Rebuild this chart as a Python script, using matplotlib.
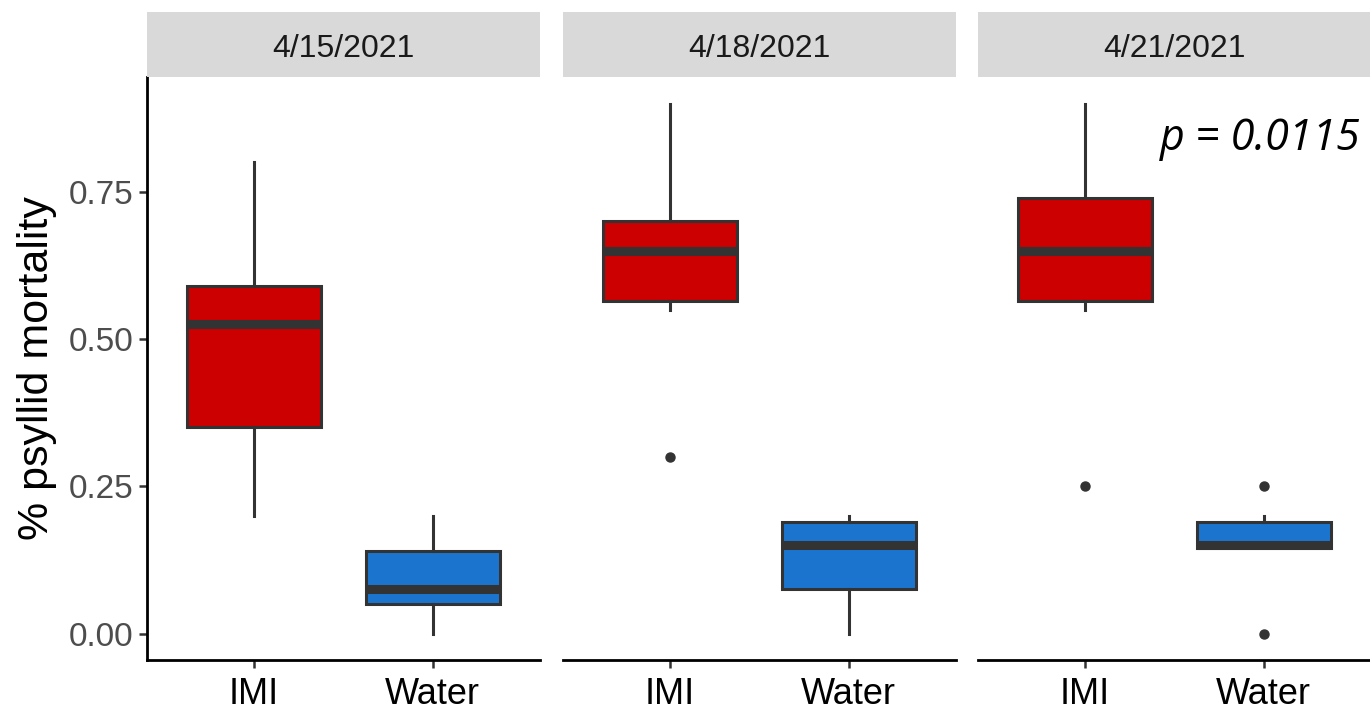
import matplotlib
matplotlib.use("Agg")
import matplotlib.pyplot as plt

dates = ["4/15/2021", "4/18/2021", "4/21/2021"]
treatments = ["IMI", "Water"]
colors = ["#CC0000", "#1B75CF"]

# per date, per treatment: [whislo, q1, median, q3, whishi]
imi_stats = [
    [0.20, 0.35, 0.525, 0.59, 0.80],
    [0.55, 0.565, 0.65, 0.70, 0.90],
    [0.55, 0.565, 0.65, 0.74, 0.90],
]
water_stats = [
    [0.00, 0.05, 0.075, 0.14, 0.20],
    [0.00, 0.075, 0.15, 0.19, 0.20],
    [0.145, 0.145, 0.15, 0.19, 0.20],
]
imi_outliers = [[], [0.30], [0.25]]
water_outliers = [[], [], [0.25, 0.00]]

yticks = [0.00, 0.25, 0.50, 0.75]
ytick_labels = ["0.00", "0.25", "0.50", "0.75"]
p_label = "p = 0.0115"

plt.rcParams["font.family"] = ["Liberation Sans", "DejaVu Sans"]

W, H = 1370, 713
fig = plt.figure(figsize=(W / 100, H / 100), dpi=100)

panel_lefts = [147, 563, 978]
panel_w = 393
ax_top, ax_bot = 77, 660
strip_top = 12

dark = "#333333"
for i, d in enumerate(dates):
    l = panel_lefts[i] / W
    ax = fig.add_axes([l, 1 - ax_bot / H, panel_w / W, (ax_bot - ax_top) / H])
    stats = []
    for j, (s, fl) in enumerate([(imi_stats[i], imi_outliers[i]), (water_stats[i], water_outliers[i])]):
        stats.append(dict(whislo=s[0], q1=s[1], med=s[2], q3=s[3], whishi=s[4], fliers=fl, label=treatments[j]))
    bp = ax.bxp(stats, positions=[1, 2], widths=0.75, patch_artist=True, showcaps=False,
                boxprops=dict(edgecolor=dark, linewidth=2.2),
                whiskerprops=dict(color=dark, linewidth=2.2),
                medianprops=dict(color=dark, linewidth=6.5, solid_capstyle="butt"),
                flierprops=dict(marker="o", markerfacecolor=dark, markeredgecolor=dark, markersize=6.5))
    for patch, c in zip(bp["boxes"], colors):
        patch.set_facecolor(c)
    ax.set_xlim(0.4, 2.6)
    ax.set_ylim(-0.045, 0.945)
    for sp in ["top", "right"]:
        ax.spines[sp].set_visible(False)
    ax.spines["bottom"].set_linewidth(2.0)
    ax.spines["bottom"].set_color("black")
    ax.set_xticks([1, 2])
    ax.set_xticklabels(treatments, fontsize=26, color="black")
    ax.tick_params(axis="x", length=6, width=1.8, color=dark, pad=6)
    if i == 0:
        ax.spines["left"].set_linewidth(2.0)
        ax.spines["left"].set_color("black")
        ax.set_yticks(yticks)
        ax.set_yticklabels(ytick_labels, fontsize=24, color="#4D4D4D")
        ax.tick_params(axis="y", length=6, width=1.8, color=dark, pad=4)
        ax.set_ylabel("% psyllid mortality", fontsize=31, color="black", labelpad=8)
    else:
        ax.spines["left"].set_visible(False)
        ax.set_yticks([])
    # strip
    sax = fig.add_axes([l, 1 - ax_top / H, panel_w / W, (ax_top - strip_top) / H])
    sax.set_facecolor("#D9D9D9")
    sax.set_xticks([]); sax.set_yticks([])
    for sp in sax.spines.values():
        sp.set_visible(False)
    sax.text(0.5, 0.43, d, ha="center", va="center", fontsize=23, color="#1A1A1A", transform=sax.transAxes)
    if i == 2:
        ax.text(2.54, 0.84, p_label, ha="right", va="center", fontsize=31, style="italic",
                family=["Open Sans", "DejaVu Sans"], color="black")

fig.savefig("out.png", dpi=100)
